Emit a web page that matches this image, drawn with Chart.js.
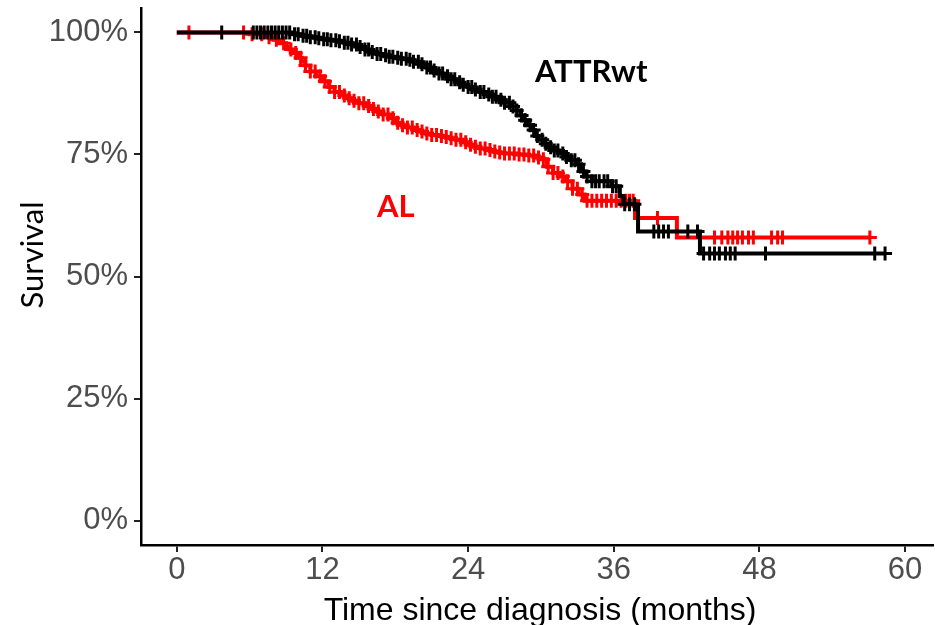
<!DOCTYPE html>
<html>
<head>
<meta charset="utf-8">
<script src="https://cdn.jsdelivr.net/npm/chart.js@4.4.1/dist/chart.umd.min.js"></script>
<style>
  html, body { margin: 0; padding: 0; background: #fff; }
  #c { display: block; }
</style>
</head>
<body>
<canvas id="c" width="935" height="625"></canvas>
<script>
// Kaplan-Meier steps: time (months) and survival after the drop
const attrTimes = [0, 9.6, 10.2, 10.8, 11.5, 12, 12.6, 13.2, 13.8, 14.4, 15, 15.5, 16, 16.5, 17, 17.5, 18, 18.5, 19, 19.5, 20, 20.5, 21, 21.5, 22, 22.5, 23, 23.5, 24, 24.5, 25, 25.5, 26, 26.5, 27, 27.5, 28, 28.3, 28.6, 28.9, 29.2, 29.5, 29.8, 30.2, 30.6, 31, 31.5, 32, 32.5, 33, 33.3, 33.6, 34.2, 35.8, 36.5, 36.8, 38.0, 43.1, 58.35];
const attrSurv  = [1, 0.996, 0.993, 0.99, 0.988, 0.986, 0.984, 0.982, 0.979, 0.975, 0.97, 0.965, 0.96, 0.956, 0.953, 0.95, 0.948, 0.946, 0.944, 0.94, 0.935, 0.928, 0.922, 0.916, 0.91, 0.904, 0.898, 0.893, 0.888, 0.883, 0.878, 0.873, 0.868, 0.862, 0.856, 0.848, 0.84, 0.83, 0.82, 0.81, 0.8, 0.788, 0.78, 0.772, 0.765, 0.758, 0.752, 0.745, 0.738, 0.73, 0.715, 0.705, 0.695, 0.685, 0.665, 0.648, 0.592, 0.547, 0.547];
const attrCensor = [3.7, 6.3, 6.6, 6.9, 7.2, 7.5, 7.8, 8.1, 8.4, 8.7, 9.0, 9.3, 9.7, 10.0, 10.4, 10.7, 11.0, 11.4, 11.7, 12.1, 12.4, 12.7, 13.1, 13.4, 13.8, 14.1, 14.4, 14.8, 15.1, 15.5, 15.8, 16.1, 16.5, 16.8, 17.2, 17.5, 17.8, 18.2, 18.5, 18.9, 19.2, 19.5, 19.9, 20.2, 20.6, 20.9, 21.2, 21.6, 21.9, 22.3, 22.6, 22.9, 23.3, 23.6, 24.0, 24.3, 24.6, 25.0, 25.3, 25.7, 26.0, 26.3, 26.7, 27.0, 27.4, 27.7, 28.0, 28.4, 28.7, 29.1, 29.4, 29.7, 30.1, 30.4, 30.8, 31.1, 31.4, 31.8, 32.1, 32.5, 32.8, 33.1, 33.5, 33.8, 34.2, 34.5, 34.8, 35.2, 35.5, 35.9, 36.2, 36.9, 37.3, 37.7, 39.3, 39.7, 40.1, 40.5, 42.1, 42.9, 43.4, 43.9, 44.3, 44.7, 45.2, 45.6, 46.0, 48.5, 57.5, 58.35];

const alTimes = [0, 6, 7.5, 8, 8.5, 9, 9.3, 9.6, 10, 10.3, 10.6, 11, 11.5, 12, 12.5, 13, 13.5, 14, 14.5, 15, 15.5, 16, 16.5, 17, 17.5, 18, 18.5, 19, 19.5, 20, 20.5, 21, 21.5, 22, 22.5, 23, 23.5, 24, 24.5, 25, 25.5, 26, 26.5, 27, 28, 29, 29.5, 30, 30.5, 31, 31.5, 32, 32.6, 33.1, 33.6, 37.75, 41.2, 57.1];
const alSurv  = [1, 0.996, 0.99, 0.985, 0.978, 0.97, 0.965, 0.958, 0.948, 0.94, 0.932, 0.92, 0.91, 0.9, 0.888, 0.878, 0.871, 0.865, 0.86, 0.855, 0.849, 0.843, 0.838, 0.832, 0.824, 0.815, 0.81, 0.805, 0.8, 0.797, 0.793, 0.79, 0.788, 0.786, 0.783, 0.78, 0.775, 0.77, 0.766, 0.762, 0.759, 0.756, 0.754, 0.752, 0.75, 0.748, 0.744, 0.74, 0.725, 0.712, 0.705, 0.695, 0.68, 0.668, 0.655, 0.62, 0.58, 0.58];
const alCensor = [1.0, 5.5, 6.2, 7.0, 7.6, 8.2, 8.8, 9.4, 9.8, 10.2, 10.6, 11.0, 11.4, 11.8, 12.2, 12.6, 13.0, 13.4, 13.8, 14.2, 14.6, 15.0, 15.4, 15.8, 16.2, 16.6, 17.0, 17.4, 17.8, 18.2, 18.6, 19.0, 19.4, 19.8, 20.2, 20.6, 21.0, 21.4, 21.8, 22.2, 22.6, 23.0, 23.4, 23.8, 24.2, 24.6, 25.0, 25.4, 25.8, 26.2, 26.6, 27.0, 27.4, 27.8, 28.2, 28.6, 29.0, 29.4, 29.8, 30.2, 30.6, 31.0, 31.4, 31.8, 32.2, 32.6, 33.0, 33.4, 33.8, 34.2, 34.6, 35.0, 35.4, 35.8, 36.2, 36.6, 37.0, 37.3, 37.6, 39.6, 44.3, 44.9, 45.4, 45.8, 46.2, 46.6, 47.1, 47.5, 49.0, 49.5, 49.9, 57.1];

const xTicks = [0, 12, 24, 36, 48, 60];
const yTicks = [0, 0.25, 0.5, 0.75, 1];

// survival value of a step curve at time t
function survAt(times, surv, t) {
    let s = surv[0];
    for (let i = 0; i < times.length; i++) {
        if (times[i] <= t) s = surv[i];
    }
    return s;
}

const stepData = (times, surv) => times.map((t, i) => ({ x: t, y: surv[i] }));
const censorData = (times, surv, cens) => cens.map(t => ({ x: t, y: survAt(times, surv, t) }));

// no label overhang padding, so the plot box stays where the reference has it
function noPad(s) {
    s.paddingTop = 0; s.paddingBottom = 0; s.paddingLeft = 0; s.paddingRight = 0;
}

// free text: group labels and axis titles
const textPlugin = {
    id: 'texts',
    afterDraw(chart) {
        const ctx = chart.ctx;
        ctx.save();
        ctx.textBaseline = 'alphabetic';

        ctx.textAlign = 'left';
        ctx.font = 'bold 31px Lato';
        ctx.fillStyle = '#000';
        ctx.fillText('ATTRwt', 535, 82);
        ctx.fillStyle = '#ff0000';
        ctx.fillText('AL', 377, 217);

        // x title
        ctx.fillStyle = '#000';
        ctx.textAlign = 'center';
        ctx.font = '32px "Liberation Sans", Arial';
        ctx.fillText('Time since diagnosis (months)', 540, 620);

        // y title
        ctx.save();
        ctx.translate(43, 255);
        ctx.rotate(-Math.PI / 2);
        ctx.font = '31px Lato';
        ctx.fillText('Survival', 0, 0);
        ctx.restore();

        ctx.restore();
    }
};

new Chart(document.getElementById('c'), {
    type: 'scatter',
    data: {
        datasets: [
            {
                type: 'line',
                data: stepData(alTimes, alSurv),
                borderColor: '#ff0000',
                borderWidth: 4,
                stepped: true,
                pointRadius: 0,
                fill: false,
                order: 4
            },
            {
                data: censorData(alTimes, alSurv, alCensor),
                pointStyle: 'cross',
                pointRadius: 7,
                borderColor: '#ff0000',
                borderWidth: 3,
                order: 3
            },
            {
                type: 'line',
                data: stepData(attrTimes, attrSurv),
                borderColor: '#000',
                borderWidth: 4,
                stepped: true,
                pointRadius: 0,
                fill: false,
                order: 2
            },
            {
                data: censorData(attrTimes, attrSurv, attrCensor),
                pointStyle: 'cross',
                pointRadius: 7,
                borderColor: '#000',
                borderWidth: 3,
                order: 1
            }
        ]
    },
    options: {
        responsive: false,
        animation: false,
        events: [],
        layout: { autoPadding: false, padding: { top: 8, right: 2, left: 0, bottom: 0 } },
        plugins: {
            legend: { display: false },
            tooltip: { enabled: false }
        },
        scales: {
            x: {
                type: 'linear',
                min: -2.95,
                max: 62.3,
                afterBuildTicks: s => { s.ticks = xTicks.map(v => ({ value: v })); },
                afterFit: s => { s.height = 80; noPad(s); },
                border: { display: true, color: '#000', width: 2.5 },
                grid: { drawOnChartArea: false, drawTicks: true, tickLength: 7, color: '#222', lineWidth: 2 },
                ticks: {
                    color: '#4d4d4d',
                    font: { family: '"Liberation Sans", Arial', size: 31 },
                    padding: 0,
                    maxRotation: 0,
                    autoSkip: false
                }
            },
            y: {
                type: 'linear',
                min: -0.05,
                max: 1.05,
                afterBuildTicks: s => { s.ticks = yTicks.map(v => ({ value: v })); },
                afterFit: s => { s.width = 141; noPad(s); },
                border: { display: true, color: '#000', width: 2.5 },
                grid: { drawOnChartArea: false, drawTicks: true, tickLength: 7, color: '#222', lineWidth: 2 },
                ticks: {
                    color: '#4d4d4d',
                    font: { family: '"Liberation Sans", Arial', size: 31 },
                    padding: 6,
                    autoSkip: false,
                    callback: v => Math.round(v * 100) + '%'
                }
            }
        }
    },
    plugins: [textPlugin]
});
</script>
</body>
</html>
